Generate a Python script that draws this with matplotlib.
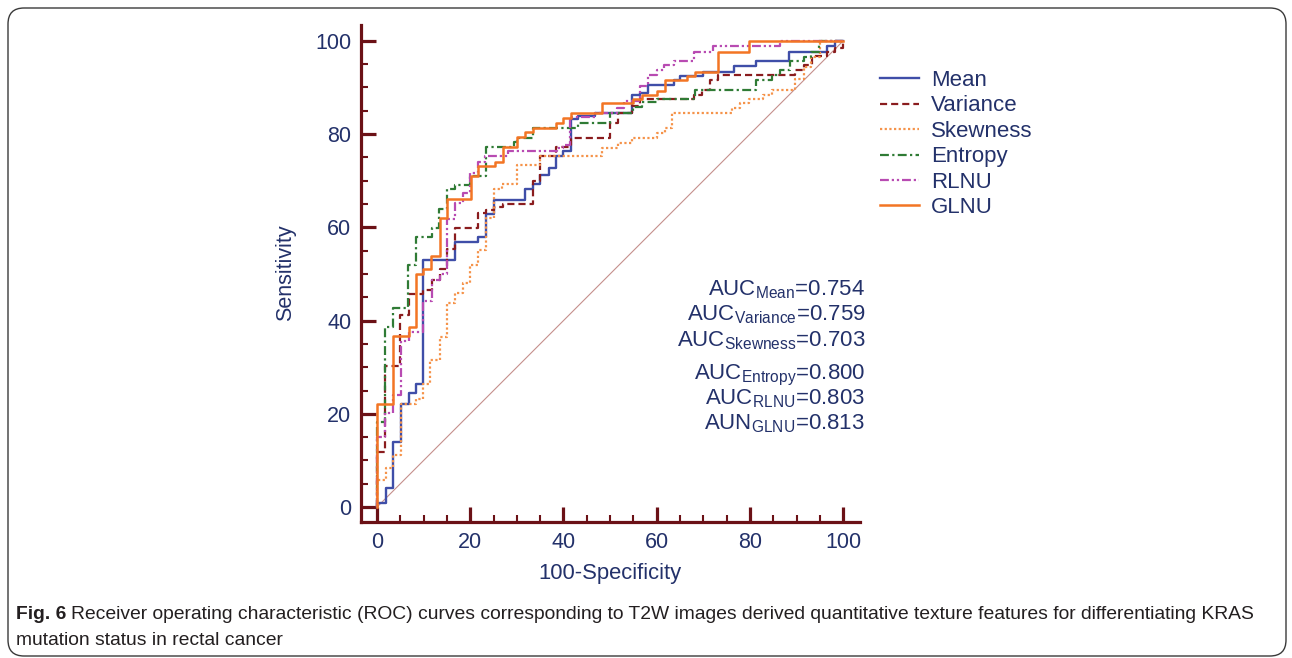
import matplotlib as mpl
import matplotlib.pyplot as plt
from matplotlib.patches import FancyBboxPatch
from matplotlib.ticker import MultipleLocator
from matplotlib.transforms import IdentityTransform

mpl.rcParams["font.family"] = ["Liberation Sans", "DejaVu Sans"]
mpl.rcParams["mathtext.fontset"] = "custom"
mpl.rcParams["mathtext.rm"] = "Liberation Sans"

# ROC step curves: (100-specificity, sensitivity) after each jump
mean_x = [0, 0, 1.9, 3.5, 5.1, 6.9, 8.4, 9.9, 16.8, 21.7, 23.4, 25.1, 31.8, 33.4, 35, 36.8, 38.4, 40, 41.6, 43.2,
          46.8, 54.7, 56.4, 58.2, 63.6, 65, 70, 76.5, 81.4, 88.3, 96.5, 98.3, 100]
mean_y = [0, 0.8, 4, 14, 22.2, 24.4, 26.4, 53, 56.9, 58, 62.9, 65.9, 68.2, 69.3, 71.2, 72.7, 75.2, 76.3, 83.2, 83.8,
          84.5, 88.4, 88.8, 90.6, 91.5, 92.4, 93.4, 94.5, 95.6, 97.7, 98.8, 100, 100]

var_x = [0, 0, 1.7, 4.9, 6.8, 9.9, 11.7, 13.5, 15.1, 16.7, 21.7, 23.4, 25.1, 27, 33.4, 35, 38.3, 41.6, 50, 51.8,
         54.7, 56.4, 67.9, 69.7, 71.5, 73.2, 89.7, 91.5, 93.2, 96.5, 98.3, 100]
var_y = [0, 11.9, 30.3, 41.3, 45.8, 46.6, 48.7, 51, 55.3, 59.8, 63, 63.7, 64.4, 65, 70, 75.2, 77.3, 79.2, 82.3, 84.6,
         86, 87.5, 88.4, 89.5, 91.7, 92.7, 93.8, 94.8, 96.8, 97.7, 98.4, 100]

skew_x = [0, 0, 1.9, 3.5, 5.1, 8.4, 9.9, 11.4, 13.5, 15, 16.7, 18.4, 20, 21.6, 23.4, 25, 26.8, 30, 35, 48.2, 51.8,
          54.7, 60, 61.8, 63.2, 76.1, 77.9, 79.7, 82.9, 84.7, 89.7, 91.5, 93, 95, 100]
skew_y = [0, 5.8, 8.3, 11.2, 22.2, 23.2, 26.4, 31.5, 36.5, 43.7, 45.9, 48, 51.9, 55.2, 62, 68.2, 69.4, 73.4, 75.2,
          77.1, 78, 79.1, 80.2, 81.3, 84.5, 85.7, 86.6, 87.5, 88.4, 89.5, 91.8, 94.3, 96.6, 100, 100]

ent_x = [0, 0, 1.7, 3.5, 6.7, 8.4, 11.7, 13.4, 15.1, 16.7, 20, 23.3, 29.3, 30, 33.4, 43.2, 50, 55, 56.8, 60, 68.2,
         81.4, 84.7, 86.5, 88.6, 91.5, 93.1, 94.7, 100]
ent_y = [0, 18.3, 38.6, 42.8, 51.9, 58, 59.8, 64, 68.2, 69, 71, 77.3, 78.4, 79.2, 81.3, 82.3, 84.6, 85.9, 86.8, 87.5,
         89.5, 91.6, 92.7, 93.8, 95.6, 96.6, 97.7, 100, 100]

rlnu_x = [0, 0, 1.7, 3.5, 5.1, 6.9, 9.9, 11.7, 13.5, 15.1, 16.7, 18.4, 20, 21.6, 23.2, 28.2, 38.6, 40, 41.5, 46.8,
          51.4, 53, 56.4, 58.2, 60, 61.5, 63.6, 68, 72, 86.5, 100]
rlnu_y = [0, 15.1, 20.1, 24, 35.7, 37.6, 44.1, 48.7, 50.1, 61.7, 65.2, 67.3, 71.6, 74.1, 75.3, 76.3, 77, 77.7, 83.7,
          84.5, 85.5, 87, 90.3, 92.7, 93.8, 94.8, 95.6, 97.7, 99, 100, 100]

glnu_x = [0, 0, 3.4, 6.9, 8.4, 9.9, 11.6, 13.5, 15.1, 20.1, 21.7, 25.3, 27, 30, 31.8, 33.4, 38.3, 40, 41.6, 48.2,
          55, 56.8, 60, 61.8, 66.5, 68.2, 73.2, 79.7, 100]
glnu_y = [0, 22.2, 36.7, 38.6, 50, 51, 53.9, 62, 66, 71, 73.2, 74.1, 77.3, 79.3, 80.4, 81.3, 82.4, 83.5, 84.6, 86.6,
          87.5, 88.4, 89.3, 91.5, 92.5, 93.4, 97.7, 100, 100]

labels = ["Mean", "Variance", "Skewness", "Entropy", "RLNU", "GLNU"]
auc_names = ["AUC", "AUC", "AUC", "AUC", "AUC", "AUN"]
auc_values = [0.754, 0.759, 0.703, 0.800, 0.803, 0.813]

W, H = 1292, 658
navy = "#23316a"
axis_red = "#6b1116"

fig = plt.figure(figsize=(W / 100, H / 100), dpi=100)
ax = fig.add_axes([361 / W, 1 - 522 / H, (860 - 361) / W, (522 - 25) / H])

ax.plot([0, 100], [0, 100], color="#c58f8c", lw=0.8, zorder=1)

styles = [
    (mean_x, mean_y, "#3f4ea8", "-", 1.7),
    (var_x, var_y, "#8a1c1e", (0, (3.2, 1.8)), 1.6),
    (skew_x, skew_y, "#f5934a", (0, (1, 1.1)), 1.6),
    (ent_x, ent_y, "#2f7b35", (0, (4, 1.5, 1, 1.5)), 1.6),
    (rlnu_x, rlnu_y, "#b84bb2", (0, (4, 1.3, 1, 1.3, 1, 1.3)), 1.6),
    (glnu_x, glnu_y, "#f37524", "-", 1.8),
]
for (xs, ys, c, ls, lw), lab in zip(styles, labels):
    ax.plot(xs, ys, drawstyle="steps-post", color=c, linestyle=ls, lw=lw, label=lab)

for s in ["top", "right"]:
    ax.spines[s].set_visible(False)
for s in ["left", "bottom"]:
    ax.spines[s].set_color(axis_red)
    ax.spines[s].set_linewidth(2.3)

ax.set_xticks([0, 20, 40, 60, 80, 100])
ax.set_yticks([0, 20, 40, 60, 80, 100])
ax.xaxis.set_minor_locator(MultipleLocator(5))
ax.yaxis.set_minor_locator(MultipleLocator(5))
ax.tick_params(which="major", direction="in", length=11, width=2.3, color=axis_red,
               labelsize=15.5, labelcolor=navy, pad=7)
ax.tick_params(which="minor", direction="in", length=5, width=1.5, color=axis_red)
ax.set_xlim(-3.43, 103.6)
ax.set_ylim(-3.2, 103.4)

fig.text(286 / W, 1 - 273 / H, "Sensitivity", rotation=90, ha="center", va="center",
         fontsize=15.5, color=navy)
fig.text(610 / W, 1 - 573 / H, "100-Specificity", ha="center", va="center",
         fontsize=15.8, color=navy)

fig.legend(loc="upper left", bbox_to_anchor=(880 / W, 1 - 70 / H), frameon=False,
           fontsize=16, labelcolor=navy, handlelength=1.75, handletextpad=0.55,
           labelspacing=0.2, borderpad=0, borderaxespad=0)

baselines = [295, 320, 346, 379, 404, 429]
for name, lab, val, b in zip(auc_names, labels, auc_values, baselines):
    fig.text(865 / W, 1 - b / H, name + r"$_{\mathrm{" + lab + "}}$" + f"={val:.3f}",
             ha="right", va="baseline", fontsize=16, color=navy)

cap_font = ["Liberation Sans", "DejaVu Sans"]
cap_color = "#231f20"
t1 = fig.text(16 / W, 1 - 619 / H, "Fig. 6", fontsize=13.85, fontweight="bold",
              family=cap_font, color=cap_color, va="baseline")
fig.canvas.draw()
bb = t1.get_window_extent(fig.canvas.get_renderer())
fig.text((bb.x1 + 5) / W, 1 - 619 / H,
         "Receiver operating characteristic (ROC) curves corresponding to T2W images derived "
         "quantitative texture features for differentiating KRAS",
         fontsize=13.85, family=cap_font, color=cap_color, va="baseline")
fig.text(16 / W, 1 - 645 / H, "mutation status in rectal cancer", fontsize=13.85,
         family=cap_font, color=cap_color, va="baseline")

frame = FancyBboxPatch((8, 2), 1278, 648, boxstyle="round,pad=0,rounding_size=16",
                       transform=IdentityTransform(), fill=False, ec="#3a3a3a", lw=1.0)
fig.add_artist(frame)

fig.savefig("out.png", dpi=100)
